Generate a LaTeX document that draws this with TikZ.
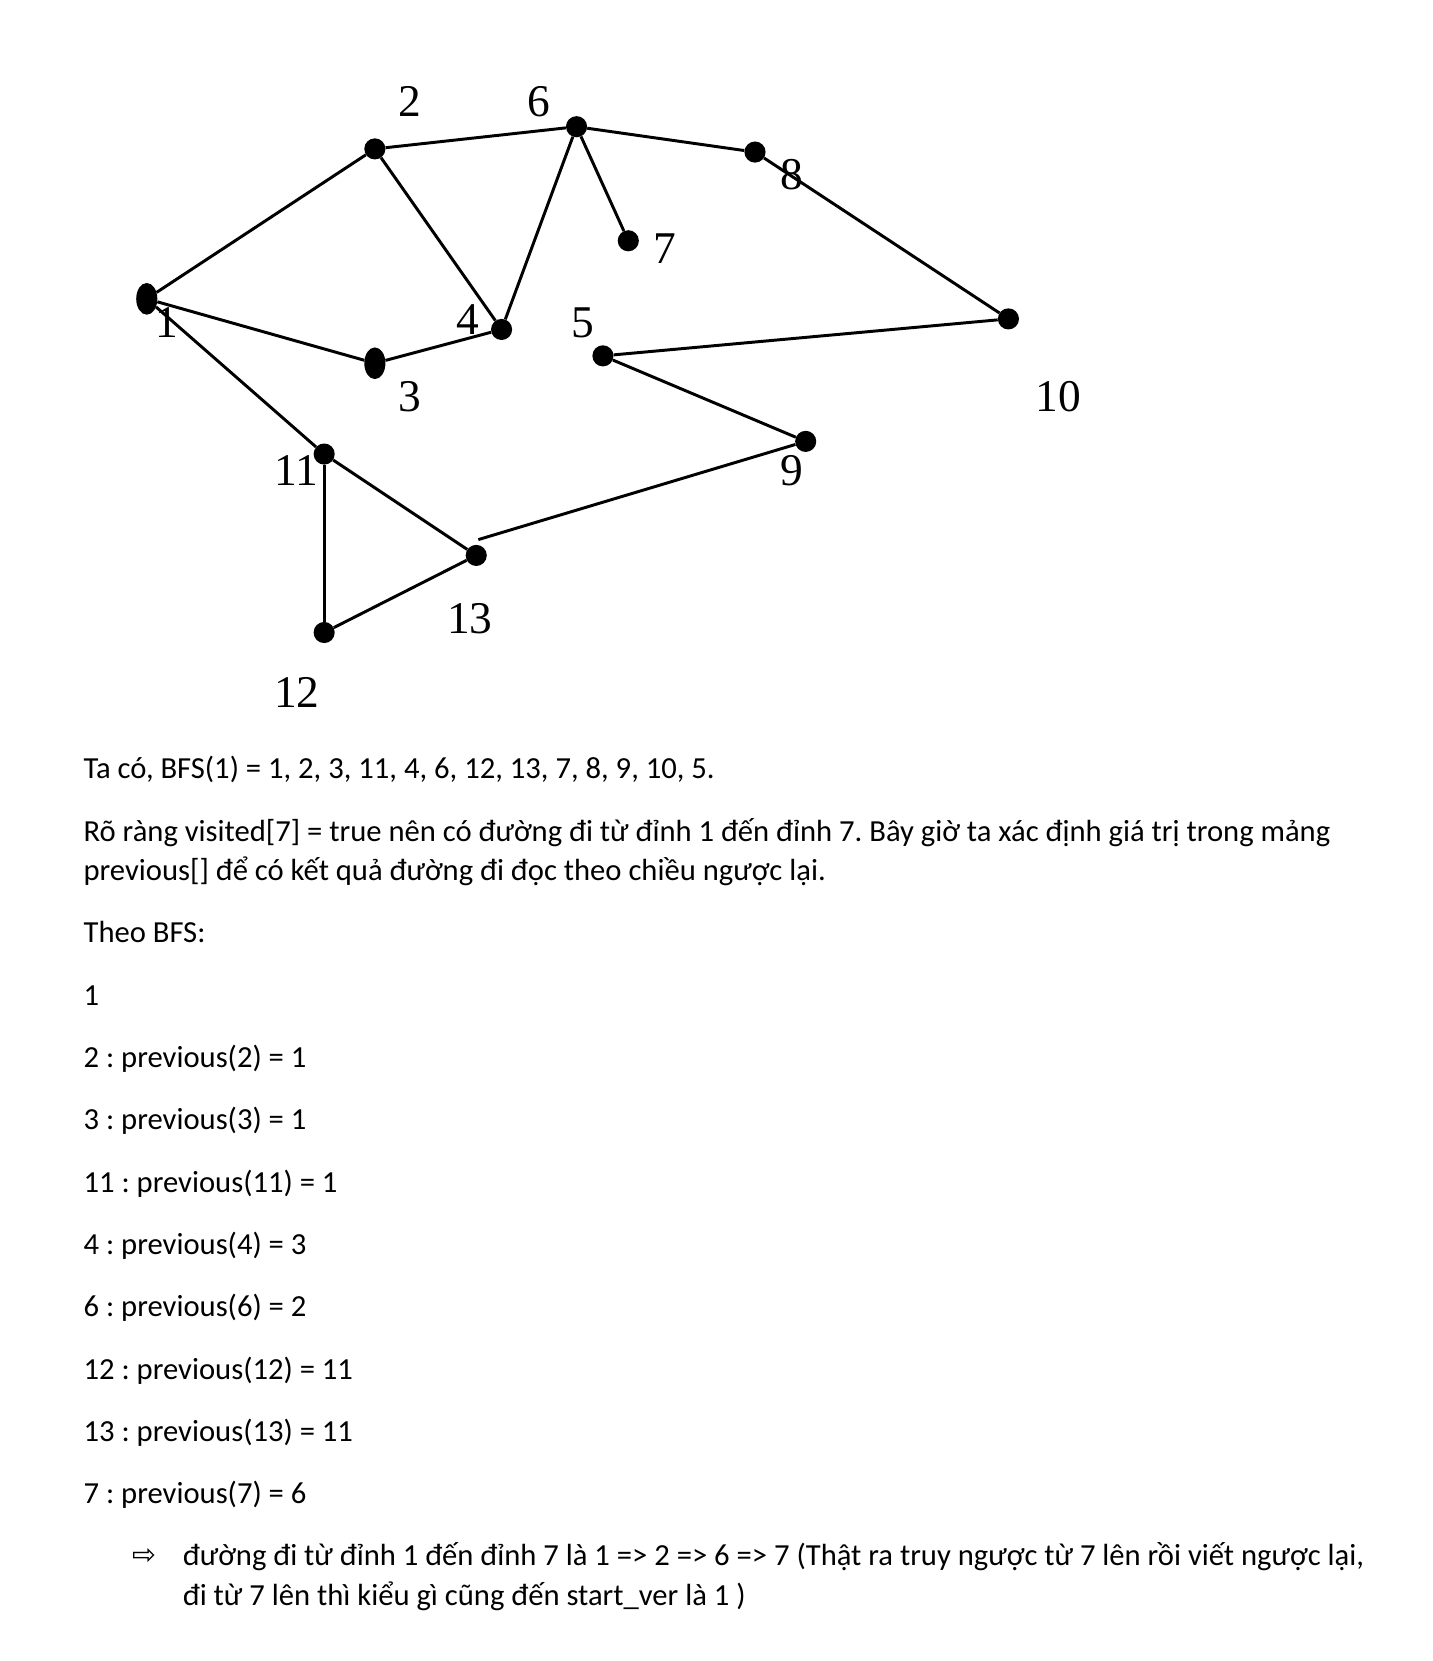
\documentclass[tikz,border=0pt]{standalone}
\usepackage{fontspec}
\setmainfont{Carlito}
\newfontfamily\graphfont{Liberation Serif}
\newfontfamily\symfont{DejaVu Sans}
\usepackage{tikz}
\usetikzlibrary{positioning,shapes.geometric}
\frenchspacing

\begin{document}
\begin{tikzpicture}[x=1pt, y=-1pt,
    dotnode/.style={circle, fill=black, inner sep=0pt, minimum size=20pt},
    longnode/.style={ellipse, fill=black, inner sep=0pt, minimum width=20pt, minimum height=30pt},
    numlabel/.style={inner sep=0pt, font=\graphfont\fontsize{43}{48}\selectfont},
    textline/.style={anchor=base west, inner sep=0pt, font=\fontsize{29}{37}\selectfont},
    edge/.style={draw=black, line width=2.8pt}
    ]
        \useasboundingbox (0,0) rectangle (1357,1573);

        %Nodes
        \node[longnode] (n1)  at (139,283) {};
        \node[dotnode]  (n2)  at (355,141) {};
        \node[longnode] (n3)  at (355,344) {};
        \node[dotnode]  (n4)  at (475,312) {};
        \node[dotnode]  (n5)  at (571,337) {};
        \node[dotnode]  (n6)  at (546,120) {};
        \node[dotnode]  (n7)  at (595,228) {};
        \node[dotnode]  (n8)  at (715,144) {};
        \node[dotnode]  (n9)  at (763,418) {};
        \node[dotnode]  (n10) at (955,302) {};
        \node[dotnode]  (n11) at (307,430) {};
        \node[dotnode]  (n12) at (307,599) {};
        \node[dotnode]  (n13) at (451,526) {};
        \coordinate (c13) at (453,511);

        %Labels
        \node[numlabel] (lab1)  at (158,305) {1};
        \node[numlabel] (lab2)  at (388,96)  {2};
        \node[numlabel] (lab3)  at (388,376) {3};
        \node[numlabel] (lab4)  at (443,303) {4};
        \node[numlabel] (lab5)  at (552,306) {5};
        \node[numlabel] (lab6)  at (510,96)  {6};
        \node[numlabel] (lab7)  at (630,235) {7};
        \node[numlabel] (lab8)  at (750,165) {8};
        \node[numlabel] (lab9)  at (750,446) {9};
        \node[numlabel] (lab10) at (1002,376) {10};
        \node[numlabel] (lab11) at (281,446) {11};
        \node[numlabel] (lab12) at (281,656) {12};
        \node[numlabel] (lab13) at (445,586) {13};

        %Lines
        \draw[edge] (n1) -- (n2);
        \draw[edge] (n1) -- (n3);
        \draw[edge] (n1) -- (n11);
        \draw[edge] (n2) -- (n6);
        \draw[edge] (n2) -- (n4);
        \draw[edge] (n3) -- (n4);
        \draw[edge] (n6) -- (n4);
        \draw[edge] (n6) -- (n7);
        \draw[edge] (n6) -- (n8);
        \draw[edge] (n8) -- (n10);
        \draw[edge] (n10) -- (n5);
        \draw[edge] (n5) -- (n9);
        \draw[edge] (n9) -- (c13);
        \draw[edge] (n11) -- (n13);
        \draw[edge] (n11) -- (n12);
        \draw[edge] (n12) -- (n13);

        %Text
        \node[textline] (t1)  at (79,737)  {Ta có, BFS(1) = 1, 2, 3, 11, 4, 6, 12, 13, 7, 8, 9, 10, 5.};
        \node[textline] (t2)  at (79,797)  {Rõ ràng visited[7] = true nên có đường đi từ đỉnh 1 đến đỉnh 7. Bây giờ ta xác định giá trị trong mảng};
        \node[textline] (t3)  at (79,834)  {previous[] để có kết quả đường đi đọc theo chiều ngược lại.};
        \node[textline] (t4)  at (79,893)  {Theo BFS:};
        \node[textline] (t5)  at (79,952)  {1};
        \node[textline] (t6)  at (79,1011) {2 : previous(2) = 1};
        \node[textline] (t7)  at (79,1070) {3 : previous(3) = 1};
        \node[textline] (t8)  at (79,1129) {11 : previous(11) = 1};
        \node[textline] (t9)  at (79,1188) {4 : previous(4) = 3};
        \node[textline] (t10) at (79,1247) {6 : previous(6) = 2};
        \node[textline] (t11) at (79,1306) {12 : previous(12) = 11};
        \node[textline] (t12) at (79,1365) {13 : previous(13) = 11};
        \node[textline] (t13) at (79,1424) {7 : previous(7) = 6};
        \node[textline, font=\symfont\fontsize{27}{30}\selectfont] (arr) at (125,1482) {⇨};
        \node[textline] (t14) at (173,1483) {đường đi từ đỉnh 1 đến đỉnh 7 là 1 => 2 => 6 => 7 (Thật ra truy ngược từ 7 lên rồi viết ngược lại,};
        \node[textline] (t15) at (173,1520) {đi từ 7 lên thì kiểu gì cũng đến start\_ver là 1 )};
    \end{tikzpicture}
\end{document}
